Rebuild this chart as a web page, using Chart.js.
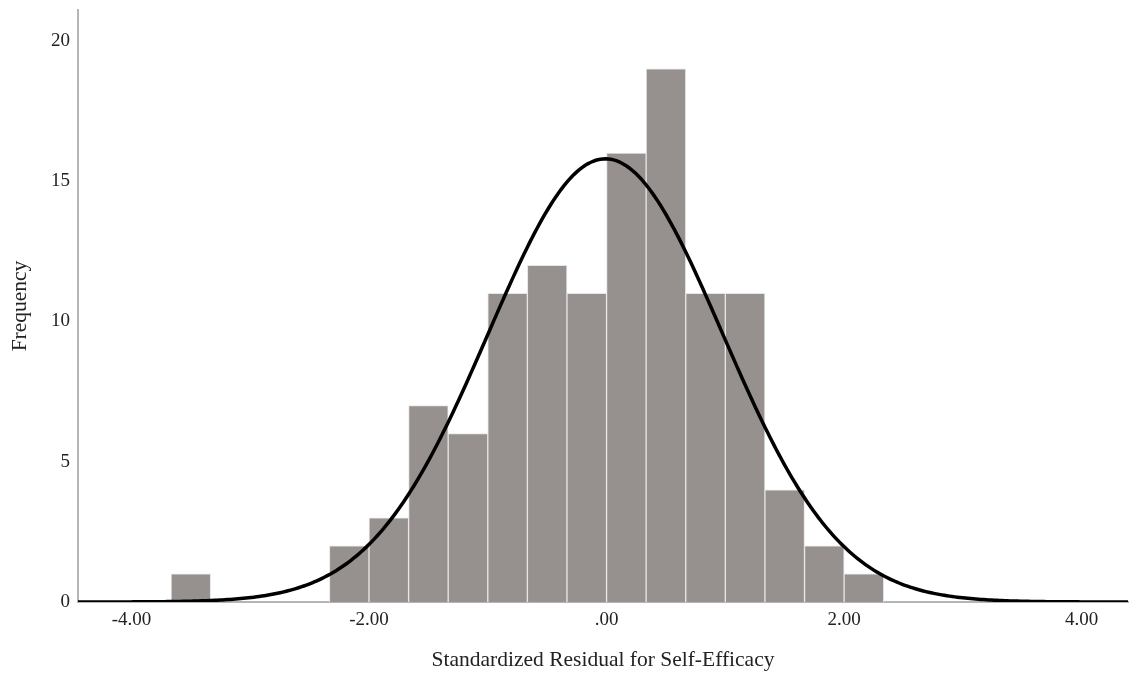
<!DOCTYPE html>
<html>
<head>
<meta charset="utf-8">
<script src="https://cdn.jsdelivr.net/npm/chart.js@4.4.1/dist/chart.umd.min.js"></script>
<style>
  html, body { margin: 0; padding: 0; background: #ffffff; }
  #wrap { width: 1130px; height: 675px; }
</style>
</head>
<body>
<div id="wrap"><canvas id="c" width="1130" height="675"></canvas></div>
<script>
// ---- Data ----
const binCenters = [-3.5, -2.1667, -1.8333, -1.5, -1.1667, -0.8333, -0.5, -0.1667, 0.1667, 0.5, 0.8333, 1.1667, 1.5, 1.8333, 2.1667];
const binCounts  = [1, 2, 3, 7, 6, 11, 12, 11, 16, 19, 11, 11, 4, 2, 1];
const xTickValues = [-4, -2, 0, 2, 4];
const xTickLabels = ["-4.00", "-2.00", ".00", "2.00", "4.00"];
const yTickValues = [0, 5, 10, 15, 20];
const yTickLabels = ["0", "5", "10", "15", "20"];
// Normal curve parameters (fitted normal overlay)
const curveMean = -0.01;
const curveSD = 0.985;
const binWidth = 1 / 3;
const xTitle = "Standardized Residual for Self-Efficacy";
const yTitle = "Frequency";

const N = binCounts.reduce((a, b) => a + b, 0);
const xMin = -4.45, xMax = 4.39;

const barData = binCenters.map((x, i) => ({ x: x, y: binCounts[i] }));
const curveData = [];
for (let k = 0; k <= 400; k++) {
  const x = xMin + (xMax - xMin) * k / 400;
  const z = (x - curveMean) / curveSD;
  curveData.push({ x: x, y: N * binWidth / (curveSD * Math.sqrt(2 * Math.PI)) * Math.exp(-0.5 * z * z) });
}

const serif = "'Liberation Serif', 'Times New Roman', serif";

new Chart(document.getElementById('c'), {
  type: 'bar',
  data: {
    datasets: [
      {
        type: 'line',
        data: curveData,
        borderColor: '#000000',
        borderWidth: 3.5,
        pointRadius: 0,
        tension: 0,
        fill: false,
        order: 0
      },
      {
        type: 'bar',
        data: barData,
        backgroundColor: '#96918f',
        borderColor: '#e6e6e6',
        borderWidth: 1,
        barPercentage: 1.0,
        categoryPercentage: 1.0,
        order: 1
      }
    ]
  },
  options: {
    responsive: false,
    animation: false,
    events: [],
    layout: { padding: { top: 10, right: 2, bottom: 0, left: 0 } },
    plugins: { legend: { display: false }, tooltip: { enabled: false } },
    scales: {
      x: {
        type: 'linear',
        min: xMin,
        max: xMax,
        offset: false,
        grid: { display: false, drawTicks: false },
        border: { display: true, color: '#b5b5b5', width: 2 },
        afterBuildTicks: (s) => { s.ticks = xTickValues.map(v => ({ value: v })); },
        afterFit: (s) => { s.height = 73; s.paddingLeft = 0; s.paddingRight = 0; },
        ticks: {
          padding: 7,
          maxRotation: 0,
          autoSkip: false,
          color: '#222222',
          font: { family: serif, size: 19 },
          callback: (v) => { const i = xTickValues.indexOf(v); return i >= 0 ? xTickLabels[i] : ''; }
        },
        title: {
          display: true,
          text: xTitle,
          color: '#222222',
          font: { family: serif, size: 21.5 },
          padding: { top: 0, bottom: 2 }
        }
      },
      y: {
        type: 'linear',
        min: 0,
        max: 21.1,
        grid: { display: false, drawTicks: false },
        border: { display: true, color: '#b5b5b5', width: 2 },
        afterBuildTicks: (s) => { s.ticks = yTickValues.map(v => ({ value: v })); },
        afterFit: (s) => { s.width = 78; s.paddingTop = 0; s.paddingBottom = 0; },
        ticks: {
          padding: 8,
          color: '#222222',
          font: { family: serif, size: 19 },
          callback: (v) => { const i = yTickValues.indexOf(v); return i >= 0 ? yTickLabels[i] : ''; }
        },
        title: {
          display: true,
          text: yTitle,
          color: '#222222',
          font: { family: serif, size: 21.5 },
          padding: { top: 7, bottom: 0 }
        }
      }
    }
  }
});
</script>
</body>
</html>
